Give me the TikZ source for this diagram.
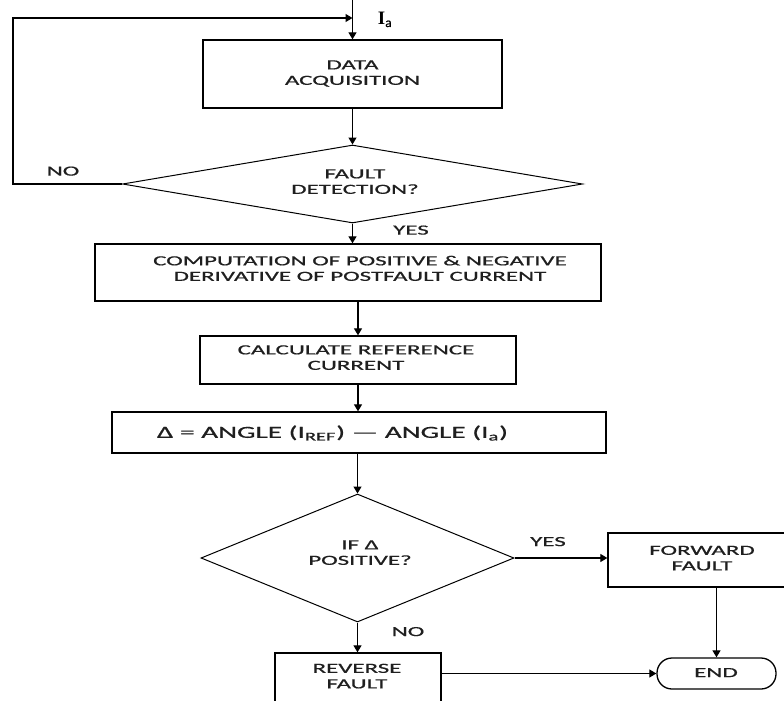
\documentclass[tikz,border=0pt]{standalone}
\usepackage{fontspec}
\setmainfont{Carlito}[FakeBold=0.6]
\newfontfamily\serifI{Liberation Serif}
\usetikzlibrary{shapes.geometric,arrows.meta}
\newcommand{\sx}[2][1.78]{\scalebox{#1}[1]{\begin{tabular}{@{}c@{}}#2\end{tabular}}}
\begin{document}
\begin{tikzpicture}[x=1pt,y=-1pt,
  box/.style={draw, line width=1.3pt, inner sep=0pt},
  dia/.style={draw, diamond, line width=1pt, inner sep=0pt},
  txt/.style={inner sep=0pt, font=\fontsize{14}{15.5}\selectfont, text=black!88},
  arr/.style={line width=1.2pt, -{Triangle[length=7pt,width=8pt]}},
  ln/.style={line width=1.2pt}]
\useasboundingbox (0,0) rectangle (784,701);
% nodes
\node[box, minimum width=299pt, minimum height=68pt] (da) at (352.5,74) {};
\node[txt] (dat) at (352.5,74) {\sx{DATA\\ACQUISITION}};
\node[dia, minimum width=460pt, minimum height=78pt] (fd) at (352.5,184) {};
\node[txt] (fdt) at (355,183) {\sx{FAULT\\DETECTION?}};
\node[box, minimum width=506pt, minimum height=57pt] (cp) at (348,272.5) {};
\node[txt] (cpt) at (360,270) {\sx{COMPUTATION OF POSITIVE \& NEGATIVE\\DERIVATIVE OF POSTFAULT CURRENT}};
\node[box, minimum width=316pt, minimum height=48pt] (cr) at (358,360) {};
\node[txt] (crt) at (356,359) {\sx{CALCULATE REFERENCE\\CURRENT}};
\node[box, minimum width=494pt, minimum height=41pt] (dl) at (359,432.5) {};
\node[txt, font=\fontsize{17}{20}\selectfont] (dlt) at (332.5,433) {\scalebox{1.72}[1]{Δ = ANGLE (I\textsubscript{REF}) — ANGLE (I\textsubscript{a})}};
\node[dia, minimum width=313pt, minimum height=128pt] (ifd) at (357.5,558) {};
\node[txt] (ift) at (360,554) {\sx{IF Δ\\POSITIVE?}};
\node[box, minimum width=188pt, minimum height=54pt] (fw) at (702,560) {};
\node[txt] (fwt) at (702,559.5) {\sx{FORWARD\\FAULT}};
\node[box, minimum width=166pt, minimum height=59pt] (rv) at (358,682.5) {};
\node[txt] (rvt) at (357,677.5) {\sx{REVERSE\\FAULT}};
\node[box, rounded corners=15pt, minimum width=119pt, minimum height=31pt] (en) at (716.5,673.5) {};
\node[txt] (ent) at (716,674) {\sx{END}};
% labels
\node[txt] (no1) at (63,172.5) {\sx{NO}};
\node[txt] (yes1) at (411,231.5) {\sx{YES}};
\node[txt] (yes2) at (548,543) {\sx{YES}};
\node[txt] (no2) at (408,633) {\sx{NO}};
\node[inner sep=0pt, font=\serifI\fontsize{19}{20}\selectfont\bfseries] (ia) at (385,19.5) {I\textsubscript{\normalfont a}};
% coordinates
\coordinate (top) at (352.5,0);
\coordinate (join) at (352.5,18);
\coordinate (cl) at (13,18);
% connectors
\draw[arr] (top) -- (da.north);
\draw[arr] (fd.west) -| (cl) -- (join);
\draw[arr] (da.south) -- (fd.north);
\draw[arr] (fd.south) -- (fd.south |- cp.north);
\draw[arr] (cr.north |- cp.south) -- (cr.north);
\draw[arr] (cr.south) -- (cr.south |- dl.north);
\draw[arr] (ifd.north |- dl.south) -- (ifd.north);
\draw[arr] (ifd.east) -- (ifd.east -| fw.west);
\draw[arr] (ifd.south) -- (ifd.south |- rv.north);
\draw[arr] (en.north |- fw.south) -- (en.north);
\draw[arr] (en.west -| rv.east) -- (en.west);
\end{tikzpicture}
\end{document}
